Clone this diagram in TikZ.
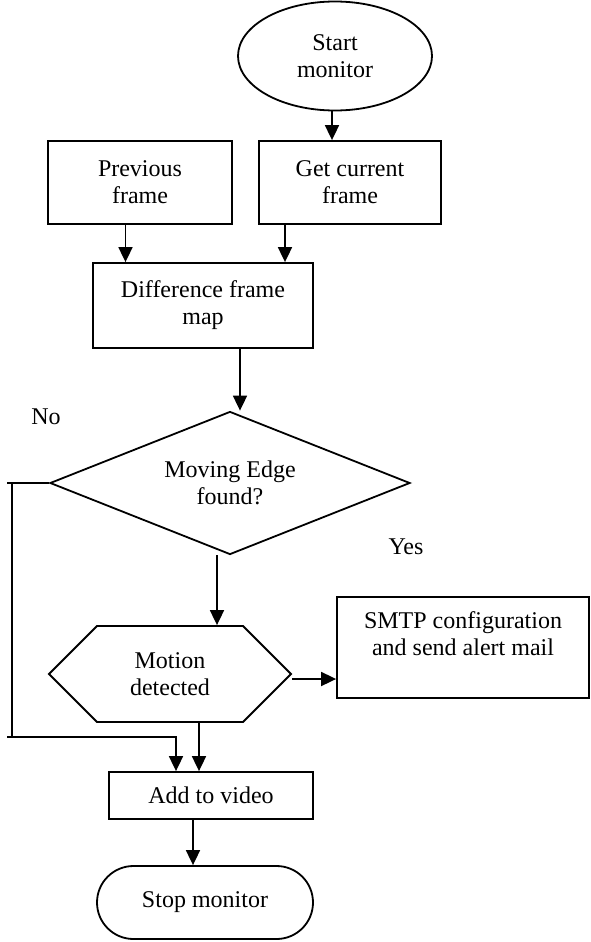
\documentclass[tikz,border=0pt]{standalone}
\usepackage{fontspec}
\setmainfont{Liberation Serif}
\usetikzlibrary{shapes.geometric,shapes.symbols,shapes.misc,arrows.meta}
\begin{document}
\begin{tikzpicture}[x=1pt,y=-1pt,
  every node/.style={font=\fontsize{24}{27}\selectfont, align=center, inner sep=0pt},
  box/.style={draw, line width=1.8pt, rectangle},
  arr/.style={line width=1.8pt, -{Triangle[length=15pt,width=14pt]}},
  ln/.style={line width=1.8pt}]
\useasboundingbox (0,0) rectangle (591,942);
\node[draw, ellipse, line width=1.8pt, minimum width=194pt, minimum height=109pt] (start) at (335,56) {Start\\monitor};
\node[box, minimum width=184pt, minimum height=83pt] (prev) at (140,182.5) {Previous\\frame};
\node[box, minimum width=182pt, minimum height=83pt] (cur) at (350,182.5) {Get current\\frame};
\node[box, minimum width=220pt, minimum height=85pt] (diff) at (203,305.5) {Difference frame\\map};
\node[draw, diamond, aspect=2.5, line width=1.8pt, minimum width=360pt, minimum height=143pt] (dec) at (230,483) {Moving Edge\\found?};
\node[draw, signal, signal to=east and west, signal pointer angle=90, line width=1.8pt, minimum width=242pt, minimum height=96pt] (hex) at (170,674) {Motion\\detected};
\node[box, minimum width=252pt, minimum height=101pt] (smtp) at (463,647.5) {SMTP configuration\\and send alert mail\\\mbox{}};
\node[box, minimum width=204pt, minimum height=47pt] (add) at (211,795.5) {Add to video};
\node[draw, rounded rectangle, line width=1.8pt, minimum width=216pt, minimum height=73pt] (stop) at (205,902.5) {Stop monitor};
\node (no) at (46,417) {No};
\node (yes) at (406,547) {Yes};
\draw[arr] (332,0 |- start.south) -- (332,0 |- cur.north);
\draw[arr] (125.5,0 |- prev.south) -- (125.5,0 |- diff.north);
\draw[arr] (285,0 |- cur.south) -- (285,0 |- diff.north);
\draw[arr] (240,0 |- diff.south) -- (240,0 |- dec.north);
\draw[arr] (217,0 |- dec.south) -- (217,0 |- hex.north);
\draw[arr] (hex.east |- 0,679) -- (smtp.west |- 0,679);
\draw[arr] (199,0 |- hex.south) -- (199,0 |- add.north);
\draw[arr] (193,0 |- add.south) -- (193,0 |- stop.north);
\coordinate (n1) at (7,483);
\coordinate (n2) at (12,483);
\coordinate (n3) at (12,737);
\coordinate (n4) at (7,737);
\coordinate (n5) at (176,737);
\draw[ln] (dec.west) -- (n1);
\draw[ln] (n2) -- (n3);
\draw[arr] (n4) -- (n5) -- (n5 |- add.north);
\end{tikzpicture}
\end{document}
